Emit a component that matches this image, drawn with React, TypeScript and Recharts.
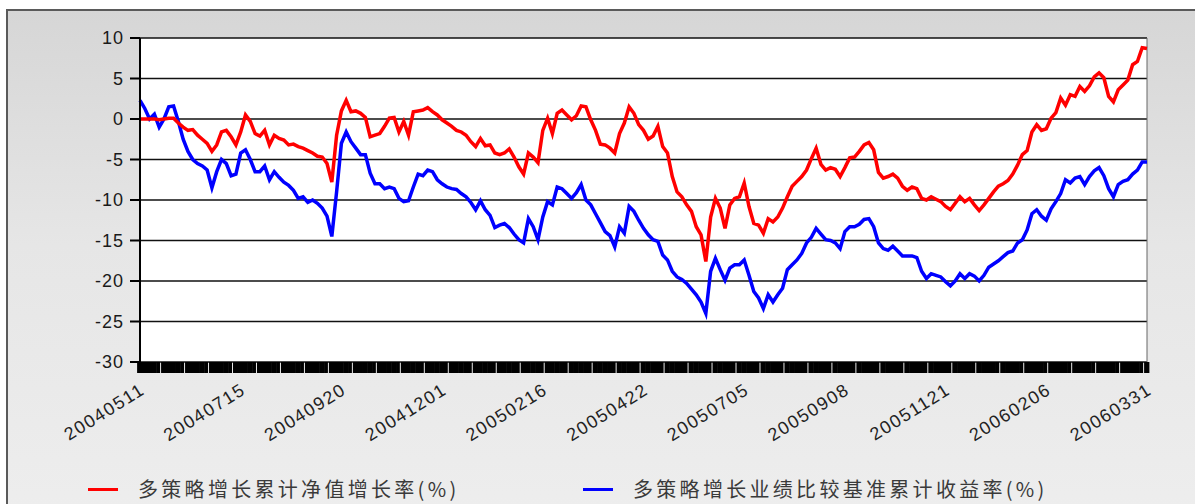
import { LineChart, Line, XAxis, YAxis, CartesianGrid, ReferenceLine, Legend } from "recharts";

// x labels, one every 21 trading-day points
const dateLabels = [
  "20040511", "20040715", "20040920", "20041201", "20050216", "20050422",
  "20050705", "20050908", "20051121", "20060206", "20060331",
];

const seriesNames = ["多策略增长累计净值增长率(%)", "多策略增长业绩比较基准累计收益率(%)"];

const yTicks = [10, 5, 0, -5, -10, -15, -20, -25, -30];

// 多策略增长累计净值增长率 (%)
const fundReturn = [
  0.0, 0.0, 0.0, 0.0, -0.1, 0.0, 0.1, 0.1, -0.5, -1.0,
  -1.4, -1.3, -2.0, -2.5, -3.0, -4.0, -3.2, -1.6, -1.4, -2.2,
  -3.2, -1.6, 0.5, -0.3, -1.8, -2.1, -1.4, -3.2, -2.0, -2.4,
  -2.6, -3.2, -3.1, -3.4, -3.6, -3.9, -4.2, -4.6, -4.7, -5.5,
  -7.8, -2.0, 1.0, 2.3, 0.9, 1.0, 0.7, 0.2, -2.2, -2.0,
  -1.8, -0.9, 0.1, 0.2, -1.6, -0.3, -2.0, 0.9, 1.0, 1.1,
  1.4, 0.9, 0.5, -0.1, -0.5, -0.9, -1.4, -1.6, -2.0, -2.8,
  -3.4, -2.4, -3.3, -3.2, -4.2, -4.4, -4.2, -3.7, -4.7, -5.9,
  -6.8, -4.2, -4.7, -5.4, -1.4, 0.1, -1.8, 0.7, 1.1, 0.5,
  -0.1, 0.4, 1.6, 1.5, -0.1, -1.4, -3.1, -3.2, -3.6, -4.2,
  -1.8, -0.5, 1.5, 0.7, -0.7, -1.4, -2.5, -2.1, -0.9, -3.4,
  -4.2, -7.1, -9.0, -9.6, -10.6, -11.4, -13.3, -14.3, -17.6, -12.1,
  -9.8, -11.0, -13.5, -10.6, -9.8, -9.6, -7.9, -10.8, -12.9, -13.1,
  -14.1, -12.3, -12.7, -12.1, -11.0, -9.6, -8.3, -7.7, -7.1, -6.3,
  -4.9, -3.6, -5.6, -6.3, -6.0, -6.2, -7.1, -6.0, -4.8, -4.7,
  -4.0, -3.2, -2.9, -3.8, -6.6, -7.3, -7.1, -6.8, -7.3, -8.3,
  -8.8, -8.4, -8.6, -9.8, -10.0, -9.6, -9.9, -10.2, -10.8, -11.2,
  -10.4, -9.6, -10.2, -9.8, -10.6, -11.3, -10.6, -9.8, -9.0, -8.3,
  -8.0, -7.6, -6.8, -5.7, -4.4, -3.9, -1.6, -0.7, -1.4, -1.2,
  0.1, 0.8, 2.6, 1.7, 3.0, 2.8, 4.0, 3.4, 4.1, 5.2,
  5.7, 5.1, 2.8, 2.1, 3.6, 4.2, 4.8, 6.7, 7.1, 8.8,
  8.7,
];

// 多策略增长业绩比较基准累计收益率 (%)
const benchReturn = [
  2.3, 1.3, 0.0, 0.6, -1.0, 0.0, 1.5, 1.6, -0.3, -2.5,
  -4.0, -5.0, -5.5, -5.8, -6.3, -8.5, -6.5, -5.0, -5.5, -7.0,
  -6.8, -4.2, -3.8, -5.0, -6.5, -6.5, -5.8, -7.5, -6.5, -7.2,
  -7.8, -8.2, -8.8, -9.8, -9.6, -10.3, -10.0, -10.4, -11.0, -12.0,
  -14.5, -9.0, -3.0, -1.6, -2.8, -3.6, -4.4, -4.4, -6.7, -8.0,
  -8.0, -8.6, -8.4, -8.6, -9.8, -10.2, -10.1, -8.4, -6.8, -7.0,
  -6.3, -6.5, -7.5, -8.0, -8.4, -8.6, -8.7, -9.2, -9.6, -10.3,
  -11.2, -10.1, -11.2, -11.9, -13.4, -13.1, -12.9, -13.4, -14.2, -14.9,
  -15.3, -12.3, -13.3, -14.9, -12.1, -10.2, -10.6, -8.4, -8.6, -9.2,
  -9.8, -9.1, -8.1, -10.0, -10.6, -11.7, -12.8, -13.9, -14.4, -15.8,
  -13.3, -14.1, -10.8, -11.4, -12.5, -13.5, -14.3, -14.9, -15.1, -16.8,
  -17.4, -18.8, -19.5, -19.8, -20.3, -21.0, -21.7, -22.6, -24.0, -18.8,
  -17.2, -18.6, -19.9, -18.4, -18.0, -18.0, -17.4, -19.3, -21.3, -22.1,
  -23.4, -21.7, -22.6, -21.7, -20.9, -18.6, -18.0, -17.4, -16.6, -15.3,
  -14.6, -13.5, -14.2, -14.9, -15.0, -15.3, -16.0, -13.9, -13.3, -13.3,
  -13.0, -12.4, -12.3, -13.3, -15.3, -16.0, -16.2, -15.7, -16.3, -16.9,
  -16.9, -16.9, -17.1, -18.8, -19.7, -19.1, -19.3, -19.5, -20.1, -20.6,
  -20.0, -19.1, -19.7, -19.1, -19.4, -20.0, -19.3, -18.3, -17.9, -17.5,
  -17.0, -16.5, -16.3, -15.3, -14.9, -13.7, -11.7, -11.2, -12.0, -12.5,
  -11.1, -10.2, -9.2, -7.5, -7.9, -7.3, -7.1, -8.1, -7.1, -6.4,
  -6.0, -7.0, -8.6, -9.6, -8.1, -7.7, -7.5, -6.8, -6.3, -5.3,
  -5.3,
];

const LABEL_EVERY = 21;
const lastIdx = fundReturn.length - 1;
const data = fundReturn.map((v, i) => ({ i, fund: v, bench: benchReturn[i] }));
const allTicks = data.map((d) => d.i);

const PLOT_W = 1007;
const STEP = PLOT_W / lastIdx;

function BandTick(props: any) {
  const { x, y, payload } = props;
  const v = payload.value as number;
  const gap = v % 5 === 4;
  const left = x - STEP / 2 - 0.5;
  const right = gap ? x + STEP / 2 - 1.5 : x + STEP / 2;
  const label = v % LABEL_EVERY === 0 ? dateLabels[v / LABEL_EVERY] : null;
  const ax = x + 6;
  const ay = y + 31;
  return (
    <g>
      <rect x={left} y={y} width={right - left} height={11} fill="#000" />
      {label && (
        <text
          x={ax}
          y={ay}
          textAnchor="end"
          transform={`rotate(-32 ${ax} ${ay})`}
          fontSize={18}
          letterSpacing={1.5}
          fontFamily="Arial, 'Liberation Sans', sans-serif"
          fill="#222"
        >
          {label}
        </text>
      )}
    </g>
  );
}

function LegendBox() {
  const items = [
    { name: seriesNames[0], color: "#ff0000", left: 88 },
    { name: seriesNames[1], color: "#0000ff", left: 583 },
  ];
  return (
    <div style={{ position: "relative", width: 1195, height: 24 }}>
      {items.map((it) => (
        <div key={it.name} style={{ position: "absolute", left: it.left, top: 0, height: 24 }}>
          <span
            style={{ position: "absolute", left: 0, top: 12, width: 30, height: 3, background: it.color }}
          />
          <span
            style={{
              position: "absolute",
              left: 50,
              top: 0,
              whiteSpace: "nowrap",
              fontSize: 20,
              lineHeight: "26px",
              letterSpacing: 3.3,
              color: "#3a3a3a",
              fontFamily: "'Noto Sans CJK SC', sans-serif",
            }}
          >
            {it.name}
          </span>
        </div>
      ))}
    </div>
  );
}

export default function App() {
  return (
    <div
      style={{
        position: "absolute",
        left: 0,
        top: 0,
        width: 1195,
        height: 504,
        overflow: "hidden",
        background: "#fff",
      }}
    >
      <div
        style={{
          position: "absolute",
          left: 6,
          top: 9,
          width: 1210,
          height: 520,
          border: "2px solid #5a5a5a",
          background: "linear-gradient(to bottom, #d6d6d6 0%, #e6e6e6 45%, #eeeeee 100%)",
        }}
      />
      <div style={{ position: "absolute", left: 0, top: 0 }}>
        <LineChart width={1195} height={504} data={data} margin={{ top: 38, right: 48, bottom: 0, left: 0 }}>
          <CartesianGrid vertical={false} stroke="#111" strokeWidth={1.5} fill="#fff" />
          <XAxis
            dataKey="i"
            type="number"
            domain={[0, lastIdx]}
            ticks={allTicks}
            interval={0}
            height={142}
            axisLine={false}
            tickLine={false}
            tickSize={0}
            tickMargin={0}
            tick={(p: any) => <BandTick {...p} />}
          />
          <YAxis
            type="number"
            domain={[-30, 10]}
            ticks={yTicks}
            interval={0}
            width={140}
            tickSize={10}
            tickMargin={6}
            axisLine={{ stroke: "#000", strokeWidth: 2 }}
            tickLine={{ stroke: "#000", strokeWidth: 2 }}
            tick={{ fontSize: 18, letterSpacing: 1, fill: "#1a1a1a", fontFamily: "Arial, 'Liberation Sans', sans-serif" }}
          />
          <ReferenceLine x={lastIdx} stroke="#666" strokeWidth={1} />
          <Line
            type="linear"
            dataKey="bench"
            stroke="#0000ff"
            strokeWidth={3.5}
            dot={false}
            isAnimationActive={false}
          />
          <Line
            type="linear"
            dataKey="fund"
            stroke="#ff0000"
            strokeWidth={3.5}
            dot={false}
            isAnimationActive={false}
          />
          <Legend
            layout="horizontal"
            verticalAlign="middle"
            align="center"
            wrapperStyle={{ top: 476, left: 0, width: 1195, height: 26 }}
            content={() => <LegendBox />}
          />
        </LineChart>
      </div>
    </div>
  );
}
